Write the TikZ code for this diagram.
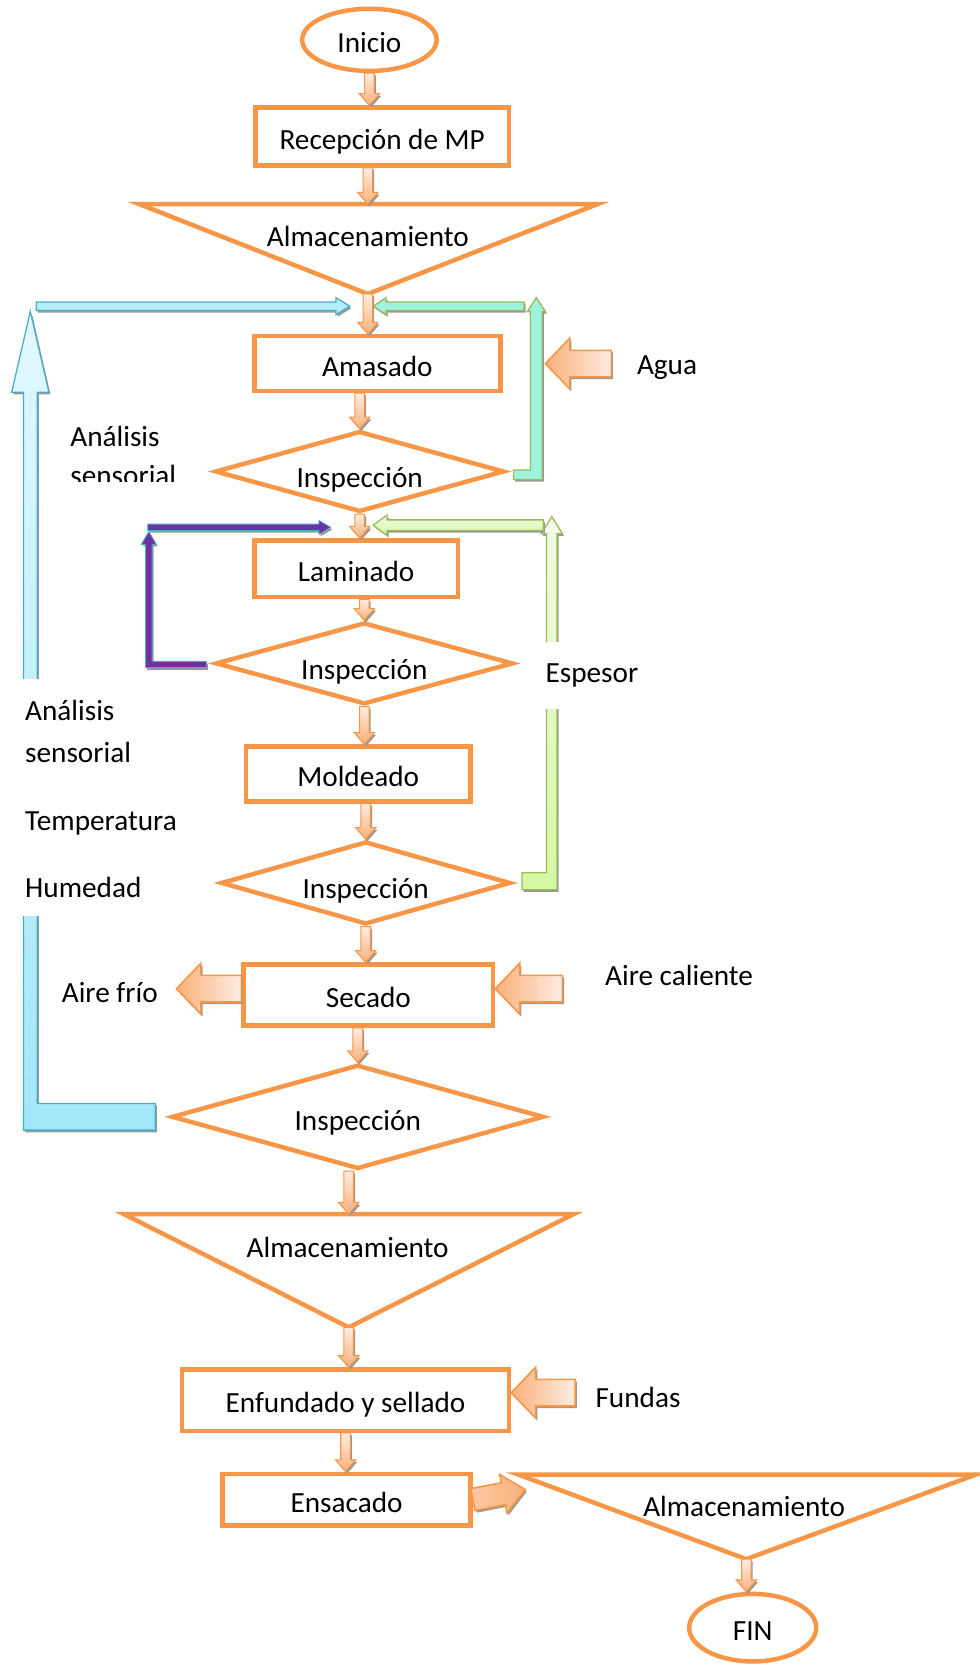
\documentclass[tikz,border=0pt]{standalone}
\usepackage{fontspec}
\setmainfont{Carlito}
\usetikzlibrary{shapes.geometric,calc,shadows}

\definecolor{naranja}{HTML}{F79646}
\definecolor{durazno}{HTML}{FAB07A}
\definecolor{crema}{HTML}{FEEDE1}
\definecolor{celeste}{HTML}{4BACC6}
\definecolor{celestefuerte}{HTML}{A2E7FA}
\definecolor{celesteclaro}{HTML}{E4F8FE}
\definecolor{celestemedio}{HTML}{B5ECFB}
\definecolor{menta}{HTML}{9EF2DE}
\definecolor{verde}{HTML}{9BBB59}
\definecolor{verdeclaro}{HTML}{F2FCE6}
\definecolor{verdefuerte}{HTML}{D5F8A4}
\definecolor{morado}{HTML}{7030A0}

\newcommand{\bflecha}[6][]{%
	\coordinate (fa) at (#2);
	\coordinate (fb) at (#3);
	\draw[#1] ($(fa)!#4!90:(fb)$) -- ($(fb)!#6!(fa)!#4!-90:(fa)$) -- ($(fb)!#6!(fa)!#5!-90:(fa)$) -- (fb)
		-- ($(fb)!#6!(fa)!#5!90:(fa)$) -- ($(fb)!#6!(fa)!#4!90:(fa)$) -- ($(fa)!#4!-90:(fb)$) -- cycle;
}

\begin{document}
\begin{tikzpicture}[x=1pt, y=-1pt, font=\fontsize{27.5}{33}\selectfont,
	every node/.style={text height=24pt, text depth=0pt},
	sombra/.style={drop shadow={shadow xshift=1.5pt, shadow yshift=-2pt, fill=black!40, opacity=1}},
	caja/.style={rectangle, draw=naranja, line width=4.2pt, inner sep=0pt},
	decision/.style={diamond, aspect=3.5, draw=naranja, line width=4.2pt, inner sep=0pt, text height=29.5pt},
	terminal/.style={ellipse, draw=naranja, line width=4.2pt, inner sep=0pt},
	almacen/.style={draw=naranja, line width=4.2pt, line join=miter},
	etiqueta/.style={anchor=west, inner sep=0pt},
	flechita/.style={draw=naranja, line width=1pt, top color=crema, bottom color=durazno, sombra},
	bloqueizq/.style={draw=naranja, line width=1.5pt, left color=durazno, right color=crema, sombra},
	bloqueder/.style={draw=naranja, line width=1.5pt, left color=crema!40!durazno, right color=durazno, sombra},
	celesteflecha/.style={draw=celeste, line width=1.2pt, fill=celestemedio, sombra},
	mentaflecha/.style={draw=verde, line width=1.2pt, fill=menta, sombra},
	moradoflecha/.style={draw=celeste, line width=0.8pt, fill=morado, sombra},
	verdeflecha/.style={draw=verde, line width=1.2pt, top color=verdeclaro, bottom color=verdefuerte, sombra}]

	\useasboundingbox (0,0) rectangle (921,1568);

	\draw[celesteflecha, top color=celesteclaro, bottom color=celestefuerte] (146,1063) -- (22,1063) -- (22,369) -- (11,369) -- (28.5,293) -- (46,369) -- (35,369) -- (35,1038) -- (146,1038) -- cycle;
	\fill[white] (5,639) rectangle (60,862);
	\draw[mentaflecha] (483,451) -- (510,451) -- (510,293) -- (513,293) -- (504.5,280) -- (496,293) -- (499,293) -- (499,442) -- (483,442) -- cycle;
	\draw[moradoflecha] (194,628) -- (137,628) -- (137,512) -- (133,512) -- (140,500) -- (147,512) -- (143,512) -- (143,622) -- (194,622) -- cycle;
	\draw[verdeflecha] (491,837) -- (524,837) -- (524,502) -- (529,502) -- (519,486) -- (509,502) -- (514,502) -- (514,821) -- (491,821) -- cycle;
	\fill[white] (505,604) rectangle (540,667);

	\node (inicio)		at (347.5,  37.5)	[terminal, minimum width = 126.5pt, minimum height = 58.5pt]	{Inicio};
	\node (recep)		at (359.5, 128.5)	[caja, minimum width = 238.5pt, minimum height = 54.5pt]	{Recepción de MP};
	\node (alm1)		at (346,   220)		{Almacenamiento};
	\coordinate (alm1n)	at (346, 192);
	\coordinate (alm1s)	at (346, 276.5);
	\draw[almacen] (131,192) -- (562,192) -- (alm1s) -- cycle;
	\node (amasado)		at (355,   342)		[caja, minimum width = 231.5pt, minimum height = 51.5pt]	{Amasado};
	\node (insp1)		at (338.3, 443.5)	[decision, minimum width = 272pt, minimum height = 76pt]	{Inspección};
	\node (laminado)	at (335,   535)		[caja, minimum width = 191.5pt, minimum height = 53.5pt]	{Laminado};
	\node (insp2)		at (342.7, 624)		[decision, minimum width = 280pt, minimum height = 77pt]	{Inspección};
	\node (moldeado)	at (337,   728)		[caja, minimum width = 211.5pt, minimum height = 51.5pt]	{Moldeado};
	\node (insp3)		at (344,   830.5)	[decision, minimum width = 272.5pt, minimum height = 78pt]	{Inspección};
	\node (secado)		at (346.5, 936)		[caja, minimum width = 234.5pt, minimum height = 57.5pt]	{Secado};
	\node (insp4)		at (336.5, 1050.5)	[decision, minimum width = 350pt, minimum height = 98pt, text height = 25pt]	{Inspección};
	\node (alm2)		at (327,   1171)	{Almacenamiento};
	\coordinate (alm2n)	at (328, 1142);
	\coordinate (alm2s)	at (328, 1248.5);
	\draw[almacen] (116.5,1142) -- (539.5,1142) -- (alm2s) -- cycle;
	\node (enfundado)	at (325,   1317)	[caja, minimum width = 307.5pt, minimum height = 57.5pt]	{Enfundado y sellado};
	\node (ensacado)	at (326,   1410.5)	[caja, minimum width = 233.5pt, minimum height = 48.5pt]	{Ensacado};
	\node (alm3)		at (700,   1414)	{Almacenamiento};
	\coordinate (alm3w)	at (494, 1401);
	\coordinate (alm3s)	at (702, 1466.5);
	\draw[almacen] (487.5,1387) -- (918,1387) -- (alm3s) -- cycle;
	\node (fin)			at (708,   1531)	[terminal, minimum width = 119.5pt, minimum height = 63.5pt]	{FIN};

	\begin{scope}
		\clip (50,380) rectangle (200,453);
		\node (analisis1)	at (66, 408)	[etiqueta]	{Análisis};
		\node (sensorial1)	at (66, 445)	[etiqueta]	{sensorial};
	\end{scope}
	\node (analisis2)	at (23.5, 666)	[etiqueta]	{Análisis};
	\node (sensorial2)	at (23.5, 705)	[etiqueta]	{sensorial};
	\node (temp)		at (23.5, 769)	[etiqueta]	{Temperatura};
	\node (humedad)		at (23.5, 832)	[etiqueta]	{Humedad};
	\node (espesor)		at (513,  630)	[etiqueta]	{Espesor};
	\node (aguatxt)		at (599,  340)	[etiqueta]	{Agua};
	\node (friotxt)		at (58,   931)	[etiqueta]	{Aire frío};
	\node (calortxt)	at (569,  915)	[etiqueta]	{Aire caliente};
	\node (fundastxt)	at (560,  1312)	[etiqueta]	{Fundas};

	\coordinate (azul0)		at (34, 288);
	\coordinate (azul1)		at (329, 288);
	\coordinate (menta0)	at (493, 288);
	\coordinate (menta1)	at (351, 288);
	\coordinate (morado0)	at (139, 496);
	\coordinate (morado1)	at (311, 496);
	\coordinate (verde0)	at (511, 494);
	\coordinate (verde1)	at (351, 494);
	\bflecha[celesteflecha]{azul0}{azul1}{4pt}{8pt}{13pt}
	\bflecha[mentaflecha]{menta0}{menta1}{4pt}{8pt}{12pt}
	\bflecha[moradoflecha]{morado0}{morado1}{3pt}{6.5pt}{11pt}
	\bflecha[verdeflecha]{verde0}{verde1}{5pt}{9.5pt}{13pt}

	\coordinate (agua)		at (575, 342);
	\coordinate (aguapunta)	at (513, 342);
	\coordinate (calor)		at (529, 930);
	\coordinate (frio)		at (166, 930);
	\coordinate (fundas)	at (541, 1310);
	\bflecha[bloqueizq]{agua}{aguapunta}{12.5pt}{24pt}{23pt}
	\bflecha[bloqueizq]{calor}{calor -| secado.east}{12.5pt}{24pt}{23pt}
	\bflecha[bloqueizq]{frio -| secado.west}{frio}{12.5pt}{24pt}{23pt}
	\bflecha[bloqueizq]{fundas}{fundas -| enfundado.east}{12.5pt}{24pt}{23pt}
	\bflecha[bloqueder]{ensacado.east}{alm3w}{10.5pt}{18.5pt}{21pt}

	\bflecha[flechita]{inicio.south}{inicio.south |- recep.north}{4.5pt}{9.5pt}{11pt}
	\bflecha[flechita]{alm1n |- recep.south}{alm1n}{4.5pt}{9.5pt}{11pt}
	\bflecha[flechita]{alm1s}{alm1s |- amasado.north}{4.5pt}{9.5pt}{11pt}
	\bflecha[flechita]{insp1.north |- amasado.south}{insp1.north}{4.5pt}{9.5pt}{11pt}
	\bflecha[flechita]{insp1.south}{insp1.south |- laminado.north}{4.5pt}{9.5pt}{11pt}
	\bflecha[flechita]{insp2.north |- laminado.south}{insp2.north}{4.5pt}{9.5pt}{11pt}
	\bflecha[flechita]{insp2.south}{insp2.south |- moldeado.north}{4.5pt}{9.5pt}{11pt}
	\bflecha[flechita]{insp3.north |- moldeado.south}{insp3.north}{4.5pt}{9.5pt}{11pt}
	\bflecha[flechita]{insp3.south}{insp3.south |- secado.north}{4.5pt}{9.5pt}{11pt}
	\bflecha[flechita]{insp4.north |- secado.south}{insp4.north}{4.5pt}{9.5pt}{11pt}
	\bflecha[flechita]{alm2n |- insp4.south}{alm2n}{4.5pt}{9.5pt}{11pt}
	\bflecha[flechita]{alm2s}{alm2s |- enfundado.north}{4.5pt}{9.5pt}{11pt}
	\bflecha[flechita]{enfundado.south}{enfundado.south |- ensacado.north}{4.5pt}{9.5pt}{11pt}
	\bflecha[flechita]{alm3s}{alm3s |- fin.north}{4.5pt}{9.5pt}{11pt}
\end{tikzpicture}
\end{document}
